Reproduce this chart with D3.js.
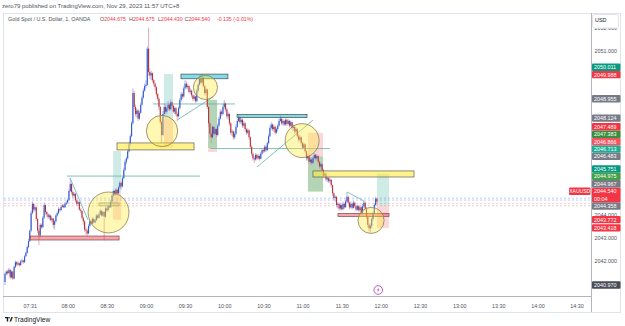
<!DOCTYPE html>
<html><head><meta charset="utf-8">
<script src="https://cdn.jsdelivr.net/npm/d3@7"></script>
<style>body{margin:0;background:#fff}svg{display:block}text{font-family:"Liberation Sans",Arial,sans-serif}</style>
</head><body><svg id="c" width="625" height="326"></svg>
<script>
// ---------------- DATA ----------------
const startTime = "07:12";           // first 1-minute candle
const firstOpen = 2041.10;
const closes = [2041.45,2041.55,2041.48,2041.62,2041.30,2041.55,2041.25,2041.75,2041.95,2041.85,2041.90,2041.82,2041.98,2042.02,2041.95,2042.20,2042.35,2042.60,2042.85,2043.30,
2044.05,2044.45,2044.20,2044.30,2043.80,2043.30,2043.10,2043.55,2043.45,2043.85,2044.40,2044.10,2044.00,2043.88,2043.95,2043.75,2043.82,2043.55,2043.70,2043.95,
2044.05,2044.22,2044.18,2044.32,2044.38,2044.30,2044.45,2044.50,2044.62,2045.00,2045.30,2044.95,2044.80,2044.88,2044.60,2044.45,2044.52,2044.20,2044.15,2043.85,
2043.70,2043.35,2043.30,2043.18,2043.50,2043.70,2043.60,2043.80,2043.65,2043.75,2043.95,2043.85,2044.00,2044.15,2043.95,2044.10,2043.90,2044.25,2044.18,2044.35,
2044.30,2044.55,2044.80,2045.00,2044.85,2045.05,2044.90,2045.15,2045.35,2045.20,2045.55,2045.90,2046.25,2046.40,2046.70,2047.00,2047.35,2047.90,2049.20,2048.60,
2048.30,2048.45,2048.10,2048.35,2048.70,2049.00,2049.30,2049.50,2049.55,2051.10,2050.10,2049.95,2050.05,2049.75,2049.60,2049.45,2049.15,2048.95,2048.60,2047.95,
2047.40,2048.30,2048.60,2048.40,2048.55,2048.70,2048.50,2048.80,2048.65,2048.40,2048.55,2048.30,2048.20,2048.55,2048.90,2049.15,2049.05,2049.40,2049.60,2049.45,
2049.50,2049.25,2049.30,2049.10,2048.95,2049.05,2048.85,2049.30,2049.55,2049.80,2049.65,2049.85,2049.50,2049.20,2049.35,2048.60,2047.90,2047.45,2047.30,2047.75,
2047.45,2047.65,2047.40,2047.80,2048.10,2048.40,2048.30,2048.60,2048.75,2048.50,2048.20,2048.30,2047.90,2047.50,2047.55,2047.30,2047.45,2047.75,2048.00,2048.15,
2047.95,2048.05,2047.80,2047.90,2047.65,2047.50,2047.60,2047.30,2046.90,2046.60,2046.40,2046.35,2046.55,2046.40,2046.50,2046.38,2046.60,2046.75,2046.70,2046.90,
2046.75,2047.05,2047.35,2047.70,2047.85,2047.65,2047.75,2047.50,2047.65,2047.80,2048.00,2048.10,2047.90,2048.00,2047.85,2048.05,2047.88,2048.00,2047.80,2047.95,
2047.70,2047.75,2047.55,2047.65,2047.35,2047.20,2047.30,2047.05,2046.85,2047.00,2046.70,2046.40,2046.50,2046.25,2046.35,2046.20,2046.40,2046.55,2046.40,2046.50,
2046.25,2046.05,2046.15,2045.90,2045.65,2045.75,2045.50,2045.55,2045.42,2045.48,2045.25,2044.90,2044.70,2044.75,2044.40,2044.45,2044.25,2044.40,2044.22,2044.45,
2044.30,2044.55,2044.75,2044.50,2044.30,2044.45,2044.28,2044.50,2044.35,2044.20,2044.35,2044.18,2044.30,2044.05,2044.35,2044.50,2044.25,2043.90,2043.55,2043.40,
2043.50,2043.80,2044.05,2044.40,2044.675,2044.54];
const highs = [2041.50,2041.60,2041.62,2041.70,2041.66,2041.60,2041.58,2041.80,2042.02,2042.00,2041.98,2041.95,2042.05,2042.10,2042.06,2042.25,2042.42,2042.66,2042.95,2043.35,
2044.15,2044.55,2044.48,2044.38,2044.32,2043.85,2043.40,2043.62,2043.60,2043.92,2044.50,2044.42,2044.15,2044.05,2044.02,2043.98,2043.90,2043.85,2043.75,2044.00,
2044.12,2044.30,2044.28,2044.40,2044.45,2044.44,2044.52,2044.58,2044.68,2045.08,2045.55,2045.35,2045.02,2044.95,2044.90,2044.65,2044.58,2044.55,2044.28,2044.18,
2043.90,2043.75,2043.45,2043.38,2043.58,2043.78,2043.75,2043.88,2043.85,2043.82,2044.02,2044.00,2044.08,2044.22,2044.18,2044.15,2044.12,2044.32,2044.30,2044.42,
2044.40,2044.62,2044.88,2045.06,2045.05,2045.12,2045.10,2045.22,2045.42,2045.40,2045.62,2046.00,2046.35,2046.48,2046.80,2047.10,2047.45,2048.00,2049.40,2049.30,
2048.70,2048.55,2048.50,2048.45,2048.80,2049.10,2049.40,2049.60,2049.75,2051.20,2052.00,2050.25,2050.15,2050.08,2049.80,2049.65,2049.50,2049.20,2049.00,2048.65,
2048.00,2048.42,2048.75,2048.70,2048.65,2048.85,2048.78,2048.92,2048.85,2048.70,2048.62,2048.60,2048.40,2048.62,2049.00,2049.25,2049.22,2049.50,2049.75,2049.70,
2049.60,2049.55,2049.40,2049.35,2049.15,2049.12,2049.10,2049.38,2049.62,2049.95,2049.98,2049.99,2049.88,2049.55,2049.42,2049.38,2048.65,2048.00,2047.55,2047.82,
2047.80,2047.72,2047.70,2047.90,2048.20,2048.50,2048.48,2048.72,2048.90,2048.80,2048.55,2048.40,2048.35,2047.95,2047.65,2047.60,2047.55,2047.85,2048.10,2048.25,
2048.20,2048.12,2048.10,2048.00,2047.95,2047.70,2047.68,2047.65,2047.35,2046.95,2046.65,2046.50,2046.62,2046.60,2046.58,2046.55,2046.68,2046.82,2046.85,2046.98,
2046.95,2047.12,2047.45,2047.80,2047.95,2047.90,2047.85,2047.80,2047.72,2047.88,2048.10,2048.25,2048.15,2048.08,2048.05,2048.12,2048.10,2048.08,2048.05,2048.02,
2047.98,2047.85,2047.80,2047.72,2047.70,2047.45,2047.40,2047.35,2047.10,2047.08,2047.05,2046.75,2046.58,2046.55,2046.42,2046.40,2046.48,2046.62,2046.60,2046.58,
2046.55,2046.30,2046.22,2046.20,2045.95,2045.82,2045.80,2045.62,2045.60,2045.55,2045.50,2045.28,2044.95,2044.82,2044.78,2044.52,2044.50,2044.48,2044.45,2044.55,
2044.50,2044.62,2044.95,2044.80,2044.55,2044.55,2044.50,2044.58,2044.55,2044.40,2044.42,2044.40,2044.38,2044.35,2044.45,2044.58,2044.55,2044.30,2043.95,2043.62,
2043.60,2043.88,2044.12,2044.48,2044.75,2044.675];
const lows = [2040.97,2041.38,2041.40,2041.45,2041.22,2041.25,2041.18,2041.22,2041.70,2041.78,2041.80,2041.75,2041.80,2041.92,2041.88,2041.92,2042.18,2042.30,2042.55,2042.82,
2043.25,2044.00,2044.10,2044.12,2043.72,2043.20,2042.68,2043.02,2043.38,2043.40,2043.80,2044.00,2043.90,2043.80,2043.78,2043.70,2043.66,2043.40,2043.35,2043.65,
2043.90,2044.00,2044.10,2044.15,2044.28,2044.26,2044.28,2044.40,2044.46,2044.58,2044.95,2044.85,2044.70,2044.72,2044.52,2044.38,2044.35,2044.15,2044.05,2043.78,
2043.55,2043.25,2043.12,2043.08,2043.15,2043.45,2043.55,2043.58,2043.60,2043.62,2043.70,2043.78,2043.82,2043.95,2043.90,2043.92,2042.88,2043.85,2044.10,2044.12,
2044.25,2044.28,2044.50,2044.76,2044.78,2044.82,2044.80,2044.88,2045.10,2045.05,2045.15,2045.50,2045.85,2046.15,2046.35,2046.65,2046.95,2047.30,2047.85,2048.50,
2048.20,2048.15,2048.00,2048.05,2048.30,2048.65,2048.95,2049.25,2049.40,2049.50,2049.95,2049.80,2049.75,2049.65,2049.50,2049.30,2049.05,2048.85,2048.45,2047.85,
2047.06,2047.35,2048.20,2048.30,2048.30,2048.45,2048.42,2048.45,2048.55,2048.35,2048.30,2048.20,2048.00,2048.15,2048.50,2048.85,2048.95,2049.00,2049.35,2049.38,
2049.35,2049.18,2049.15,2049.00,2048.85,2048.88,2048.78,2048.80,2049.25,2049.50,2049.58,2049.60,2049.45,2049.10,2049.10,2048.50,2047.75,2047.30,2047.05,2047.25,
2047.38,2047.40,2047.30,2047.35,2047.75,2048.05,2048.20,2048.25,2048.50,2048.40,2048.10,2048.05,2047.80,2047.40,2047.35,2047.20,2047.22,2047.40,2047.70,2047.95,
2047.88,2047.85,2047.70,2047.72,2047.55,2047.40,2047.45,2047.20,2046.80,2046.50,2046.30,2046.20,2046.30,2046.32,2046.35,2046.30,2046.35,2046.55,2046.62,2046.65,
2046.68,2046.72,2047.00,2047.30,2047.62,2047.58,2047.55,2047.42,2047.45,2047.55,2047.75,2047.95,2047.82,2047.80,2047.78,2047.80,2047.80,2047.82,2047.72,2047.75,
2047.60,2047.58,2047.45,2047.48,2047.28,2047.10,2047.12,2046.95,2046.78,2046.80,2046.62,2046.30,2046.30,2046.18,2046.15,2046.10,2046.15,2046.35,2046.32,2046.35,
2046.18,2045.95,2045.98,2045.82,2045.55,2045.58,2045.42,2045.38,2045.35,2045.32,2045.15,2044.80,2044.60,2044.55,2044.30,2044.25,2044.15,2044.18,2044.15,2044.20,
2044.22,2044.28,2044.50,2044.42,2044.22,2044.25,2044.20,2044.25,2044.28,2044.12,2044.15,2044.10,2044.12,2043.98,2044.00,2044.28,2044.18,2043.80,2043.45,2043.28,
2043.22,2043.40,2043.72,2044.00,2044.35,2044.43];

const timeTicks = ["07:31","08:00","08:30","09:00","09:30","10:00","10:30","11:00","11:30","12:00","12:30","13:00","13:30","14:00","14:30"];
const priceTicks = [2040,2041,2042,2043,2044,2045,2046,2047,2048,2049,2050,2051,2052];

// price-scale labels (value, colour); the current price carries the bar countdown
const axisLabels = [
  {v:2050.011,c:"#089981"},{v:2049.988,c:"#f23645"},{v:2048.955,c:"#787b86"},
  {v:2048.124,c:"#787b86"},{v:2047.489,c:"#f23645"},{v:2047.383,c:"#388e3c"},
  {v:2046.866,c:"#f7525f"},{v:2046.713,c:"#22ab94"},{v:2046.483,c:"#787b86"},
  {v:2045.751,c:"#089981"},{v:2044.975,c:"#43a047"},{v:2044.967,c:"#787b86"},
  {v:2044.540,c:"#f23645",current:true,countdown:"00:04"},{v:2044.358,c:"#787b86"},
  {v:2043.772,c:"#f23645"},{v:2043.418,c:"#f23645"},{v:2040.970,c:"#4a4d57"}
];
const priceLines = [{p:2044.69,k:"blue"},{p:2044.61,k:"blue"},{p:2044.47,k:"pink"},{p:2044.37,k:"pink"}];

// drawings (time, price)
const circles = [
  {t:"08:31:20",p:2044.08,edge:"08:47:00"},
  {t:"09:12:20",p:2047.57,edge:"09:24:20"},
  {t:"09:45:35",p:2049.44,edge:"09:54:50"},
  {t:"10:59:40",p:2047.16,edge:"11:12:40"},
  {t:"11:52:30",p:2043.74,edge:"12:02:30"}
];
const boxes = [
  {t1:"08:37:50",t2:"09:36:50",p1:2047.06,p2:2046.76,k:"yellow"},
  {t1:"11:08:00",t2:"12:25:25",p1:2045.86,p2:2045.60,k:"yellow"},
  {t1:"09:26:50",t2:"10:02:50",p1:2050.01,p2:2049.81,k:"cyan"},
  {t1:"10:09:50",t2:"11:03:25",p1:2048.28,p2:2048.15,k:"cyan"},
  {t1:"07:31:10",t2:"08:39:25",p1:2043.07,p2:2042.90,k:"pink"},
  {t1:"11:27:10",t2:"12:06:15",p1:2044.04,p2:2043.91,k:"pink"},
  {t1:"08:24:00",t2:"08:39:25",p1:2044.49,p2:2044.36,k:"mint"}
];
const positions = [
  {t1:"08:34:50",t2:"08:40:55",top:2046.713,mid:2044.967,bot:2043.772,up:"teal",dn:"red"},
  {t1:"09:13:50",t2:"09:20:45",top:2050.011,mid:2048.124,bot:2046.866,up:"teal",dn:"red"},
  {t1:"09:47:35",t2:"09:54:30",top:2048.90,mid:2046.84,bot:2046.67,up:"sage",dn:"red"},
  {t1:"11:04:10",t2:"11:15:40",top:2047.489,mid:2046.483,bot:2044.975,up:"red",dn:"sage"},
  {t1:"11:57:05",t2:"12:06:15",top:2045.751,mid:2044.358,bot:2043.418,up:"teal",dn:"red"}
];
const trendLines = [
  {t1:"07:59:30",p1:2045.64,t2:"09:41:25",p2:2045.64},
  {t1:"08:01:50",p1:2045.56,t2:"08:15:35",p2:2043.76},
  {t1:"09:05:25",p1:2048.73,t2:"10:08:15",p2:2048.73},
  {t1:"09:23:50",p1:2048.04,t2:"09:51:25",p2:2049.03},
  {t1:"09:49:15",p1:2046.82,t2:"11:21:00",p2:2046.82},
  {t1:"10:25:05",p1:2046.03,t2:"11:08:00",p2:2048.04},
  {t1:"11:34:10",p1:2044.96,t2:"11:47:05",p2:2044.57}
];
const eventTime = "11:58";

// ---------------- RENDER ----------------
const T = s => { const a = s.split(":").map(Number); return new Date(Date.UTC(2023,10,29,a[0],a[1],a[2]||0)); };
const t0 = T(startTime);
const candles = closes.map((c,i)=>({t:new Date(+t0 + i*60000), o: i===0?firstOpen:closes[i-1], h:highs[i], l:lows[i], c}));

const L = {left:4, right:591, top:13, bottom:296};
const x = d3.scaleUtc().domain([T("07:12"),T("14:30")]).range([5,576.6]);
const y = d3.scaleLinear().domain([2042,2051]).range([261,51]);

const svg = d3.select("#c");
svg.append("rect").attr("width",625).attr("height",326).attr("fill","#fff");
svg.append("defs").append("clipPath").attr("id","pc").append("rect")
  .attr("x",L.left).attr("y",L.top).attr("width",L.right-L.left).attr("height",L.bottom-L.top);
const plot = svg.append("g").attr("clip-path","url(#pc)");

// drawings under candles
const boxStyle = {
  yellow:{f:"rgba(255,235,59,0.6)",s:"#5d5d5d"},
  cyan:{f:"rgba(0,188,212,0.5)",s:"#4a4a4a"},
  pink:{f:"rgba(242,54,69,0.45)",s:"#7a4a4e"},
  mint:{f:"rgba(76,175,80,0.25)",s:"#8a8a8a"}
};
const zoneFill = {teal:"rgba(8,153,129,0.2)", sage:"rgba(56,142,60,0.38)", red:"rgba(242,54,69,0.2)"};

positions.forEach(d=>{
  const x1=x(T(d.t1)), x2=x(T(d.t2));
  plot.append("rect").attr("x",x1).attr("width",x2-x1).attr("y",y(d.top)).attr("height",y(d.mid)-y(d.top)).attr("fill",zoneFill[d.up]);
  plot.append("rect").attr("x",x1).attr("width",x2-x1).attr("y",y(d.mid)).attr("height",y(d.bot)-y(d.mid)).attr("fill",zoneFill[d.dn]);
});

plot.selectAll(".pl").data(priceLines).join("line")
  .attr("x1",L.left).attr("x2",L.right).attr("y1",d=>y(d.p)).attr("y2",d=>y(d.p))
  .attr("stroke",d=>d.k==="blue"?"rgba(41,98,255,0.45)":"rgba(242,54,69,0.4)")
  .attr("stroke-width",0.7).attr("stroke-dasharray","2,2");

plot.selectAll(".tl").data(trendLines).join("line")
  .attr("x1",d=>x(T(d.t1))).attr("y1",d=>y(d.p1)).attr("x2",d=>x(T(d.t2))).attr("y2",d=>y(d.p2))
  .attr("stroke","#5fb3a6").attr("stroke-width",0.8);

// candles
const upBody="#2f58cf", dnBody="#b8303c", upWick="#7f9ae4", dnWick="#d98a92";
const cg = plot.append("g");
cg.selectAll("line").data(candles).join("line")
  .attr("x1",d=>x(d.t)).attr("x2",d=>x(d.t)).attr("y1",d=>y(d.h)).attr("y2",d=>y(d.l))
  .attr("stroke",d=>d.c>=d.o?upWick:dnWick).attr("stroke-width",0.7);
cg.selectAll("rect").data(candles).join("rect")
  .attr("x",d=>x(d.t)-0.55).attr("width",1.1)
  .attr("y",d=>Math.min(y(d.o),y(d.c))).attr("height",d=>Math.max(0.7,Math.abs(y(d.o)-y(d.c))))
  .attr("fill",d=>d.c>=d.o?upBody:dnBody);

// drawings above candles
plot.selectAll(".bx").data(boxes).join("rect")
  .attr("x",d=>x(T(d.t1))).attr("width",d=>x(T(d.t2))-x(T(d.t1)))
  .attr("y",d=>y(d.p1)).attr("height",d=>y(d.p2)-y(d.p1))
  .attr("fill",d=>boxStyle[d.k].f).attr("stroke",d=>boxStyle[d.k].s).attr("stroke-width",0.7);

plot.selectAll(".ci").data(circles).join("circle")
  .attr("cx",d=>x(T(d.t))).attr("cy",d=>y(d.p)).attr("r",d=>x(T(d.edge))-x(T(d.t)))
  .attr("fill","rgba(255,235,59,0.38)").attr("stroke","#8a7f52").attr("stroke-width",0.8);

// frame
svg.append("rect").attr("x",3.5).attr("y",13.5).attr("width",617).attr("height",299).attr("fill","none").attr("stroke","#e0e3eb").attr("stroke-width",1);
svg.append("line").attr("x1",L.right+0.5).attr("x2",L.right+0.5).attr("y1",13).attr("y2",312).attr("stroke","#b2b5be").attr("stroke-width",1);
svg.append("line").attr("x1",3).attr("x2",L.right).attr("y1",L.bottom+0.5).attr("y2",L.bottom+0.5).attr("stroke","#b2b5be").attr("stroke-width",1);

// time axis
const xa = svg.append("g").attr("transform",`translate(0,${L.bottom})`)
  .call(d3.axisBottom(x).tickValues(timeTicks.map(T)).tickFormat(d3.utcFormat("%H:%M")).tickSize(0).tickPadding(8));
xa.select(".domain").remove();
xa.selectAll("text").attr("font-size",5.4).attr("fill","#50535e").attr("font-family","Liberation Sans, Arial");

// price labels with bottom-up stacking
const H = 7.4;
const labs = axisLabels.map(d=>({...d, yc:y(d.v), h:d.current?2*H:H})).sort((a,b)=>a.v-b.v);
let prevTop = Infinity;
labs.forEach(d=>{
  const idealTop = d.yc - H/2;
  const bottom = Math.min(idealTop + d.h, prevTop);
  d.top = bottom - d.h; prevTop = d.top;
});
// plain ticks hidden where they collide with labels
const shown = priceTicks.filter(v=>{
  const yy=y(v); if (yy<L.top || yy>L.bottom-3) return false;
  return !labs.some(d=> yy > d.top-1.5 && yy < d.top+d.h+1.5);
});
const ya = svg.append("g").attr("transform",`translate(${L.right},0)`)
  .call(d3.axisRight(y).tickValues(shown).tickFormat(d3.format(".3f")).tickSize(0).tickPadding(3.5));
ya.select(".domain").remove();
ya.selectAll("text").attr("font-size",5.4).attr("fill","#50535e").attr("font-family","Liberation Sans, Arial");

const lg = svg.append("g");
labs.forEach(d=>{
  lg.append("rect").attr("x",L.right+1).attr("y",d.top).attr("width",28.5).attr("height",d.h).attr("rx",1).attr("fill",d.c);
  lg.append("text").attr("x",L.right+3).attr("y",d.top+H/2).attr("dy","0.36em").attr("font-size",5.4).attr("fill","#fff").text(d3.format(".3f")(d.v));
  if (d.current) {
    lg.append("text").attr("x",L.right+3).attr("y",d.top+H*1.5).attr("dy","0.36em").attr("font-size",5.4).attr("fill","#fff").text(d.countdown);
    lg.append("rect").attr("x",569).attr("y",d.top).attr("width",21.5).attr("height",H).attr("rx",1).attr("fill",d.c);
    lg.append("text").attr("x",579.7).attr("y",d.top+H/2).attr("dy","0.36em").attr("text-anchor","middle").attr("font-size",5).attr("fill","#fff").text("XAUUSD");
  }
});

// USD box
svg.append("rect").attr("x",592.5).attr("y",14.5).attr("width",26).attr("height",13.5).attr("rx",2).attr("fill","#fff").attr("stroke","#e0e3eb");
svg.append("text").attr("x",595).attr("y",20.5).attr("dy","0.36em").attr("font-size",5.4).attr("fill","#131722").text("USD");

// event marker
const ex = x(T(eventTime)), ey = 290;
svg.append("circle").attr("cx",ex).attr("cy",ey).attr("r",4.3).attr("fill","#fff").attr("stroke","#ab47bc").attr("stroke-width",0.9);
svg.append("path").attr("d",`M${ex+0.8},${ey-2.6} L${ex-1.3},${ey+0.3} L${ex},${ey+0.3} L${ex-0.8},${ey+2.6} L${ex+1.3},${ey-0.4} L${ex},${ey-0.4} Z`).attr("fill","#ab47bc");

// header
svg.append("text").attr("x",2).attr("y",8.4).attr("font-size",6).attr("fill","#50535e")
  .text("zero79 published on TradingView.com, Nov 29, 2023 11:57 UTC+8");
const hdr = svg.append("text").attr("y",21.3).attr("font-size",5.4).attr("fill","#50535e");
hdr.append("tspan").attr("x",8).text("Gold Spot / U.S. Dollar, 1, OANDA");
const ohlc = [["O","2044.675",100],["H","2044.675",129],["L","2044.430",158],["C","2044.540",184.5]];
ohlc.forEach(([k,v,px])=>{
  hdr.append("tspan").attr("x",px).attr("fill","#50535e").text(k);
  hdr.append("tspan").attr("fill","#f23645").attr("font-size",5.2).text(v);
});
hdr.append("tspan").attr("x",217).attr("fill","#f23645").attr("font-size",5.2).text("-0.135 (-0.01%)");

// footer logo
const lgo = svg.append("g").attr("transform","translate(5,317)");
lgo.append("path").attr("d","M0,0 H3.2 V4.6 H1.8 V1.3 H0 Z").attr("fill","#131722");
lgo.append("circle").attr("cx",4.1).attr("cy",0.8).attr("r",0.8).attr("fill","#131722");
lgo.append("path").attr("d","M4.6,4.6 L6.3,0 H7.8 L6.1,4.6 Z").attr("fill","#131722");
svg.append("text").attr("x",14).attr("y",321.8).attr("font-size",6.6).attr("fill","#131722").text("TradingView");
</script></body></html>
